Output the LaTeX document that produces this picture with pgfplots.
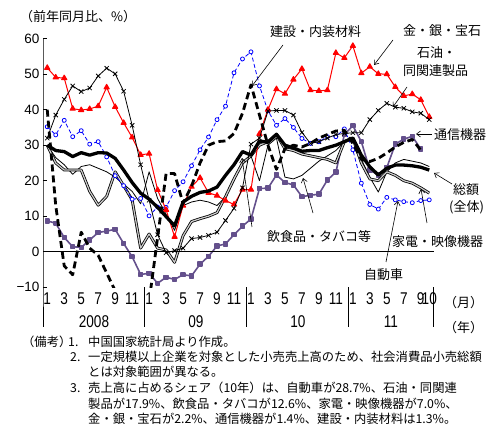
\documentclass[border=0pt]{standalone}
\usepackage{fontspec}
\setmainfont{Liberation Sans}
\newfontfamily\jp{Noto Sans CJK JP}
\newfontfamily\narrow[FakeStretch=0.8]{Liberation Sans}
\usepackage{pgfplots}
\pgfplotsset{compat=1.18}
\usepackage{pgfplotstable}
\usetikzlibrary{arrows.meta}
\definecolor{purp}{RGB}{100,80,140}
\definecolor{dgray}{RGB}{205,205,205}

\pgfplotstableread{
m tot gold oil auto tel cons food appl
0 30 51.8 32 35.2 8.7 40 30 30
1 28.5 49.1 38.5 32.9 8 13 26.5 25
2 28.2 48.9 42.9 37 4 -4 24.5 23
3 26.8 40.3 46.7 32.4 1.4 -6.5 21.8 23
4 27.9 39.9 45.1 34.1 1.2 5.5 24 23
5 27.2 40.2 46.1 30.3 3.3 1 24.5 17
6 27.9 41 49.5 31 5.4 -1 23.5 13.1
7 27.8 46.3 51.7 26.7 5.8 -6 22.5 15.6
8 26.3 40.8 50.1 21.4 6.3 -11 21 22.5
9 23 36.3 45.2 18.6 2.3 -18 19 18.6
10 19.5 32.2 35.6 14.8 -1.4 -22 17 14.6
11 16.5 27.3 24.5 15 -6.4 -22 13.5 1
12 14.8 27.6 14.5 10.1 -6.1 -14 22.5 5
13 12.5 17.4 4.8 12.6 -8.9 4 15 1
14 9.9 11.8 -0.3 12.5 -7.2 22 10.5 0.5
15 7.3 4.2 0.3 17.2 -7.8 22 6 -3
16 14 13 1 19.7 -6.5 13.6 13 4.5
17 15.6 18.3 3.7 24.2 -6.8 18.5 14 8.5
18 16.7 20.8 4 28.7 -3.5 25 14.5 9.3
19 17.1 16.6 4.6 32.3 -1.3 30 14 10
20 18.2 15.8 5.5 37.2 1.6 31 13 11
21 21.5 14.4 8.8 41 2.2 31.2 15.5 15.5
22 24.5 13.3 12.2 50.4 4.8 33.3 20 20.5
23 28.2 17.5 18 54.3 7.2 39 25 25
24 27.2 17.5 30.3 56.3 9.2 47 27 27
25 31.2 33.2 32 46.7 17.8 38.5 20 30
26 30.8 40 39.6 39.7 17.9 30 30 31
27 33.1 45.8 39.8 35.6 21.6 23.2 32 33
28 30 44.5 39.8 37.5 19.5 29 21 29
29 29.2 48.5 38.5 35 18.8 30 20.5 28.5
30 28.3 51.5 33.6 31.9 15.5 29.5 21.5 27.5
31 28.5 45.5 30.5 30.5 15.9 30.5 23.5 27
32 28.5 45.3 31 31 16.2 32 25.5 26.5
33 29.3 45.5 32 32.4 20.2 33 27 26
34 30 56 33 32.4 22.4 34 28.5 25
35 31 54.6 33.3 34.6 33 34.2 31 31
36 32 58 33.5 28.7 35.5 30.5 32 32
37 27.2 50.3 33.5 19.3 31 26 26 25
38 23.9 52.1 37.2 13.3 23 25.4 21 20.5
39 21.6 50.1 39.8 12 21.6 26.3 16.8 20
40 23.5 50 41.8 15.3 23.7 27.8 22.5 22.5
41 24.4 46.4 40.7 14.6 30.3 29.5 25 21.5
42 24.4 43.9 40.4 14.1 31.7 30.8 26 20
43 24.2 44.4 39.4 13.8 32.5 31.6 25.5 19.3
44 23.8 42.8 39 14.4 28.9 28.6 25 18
45 23 38 37.2 14.6 nan nan 24 16.5
}\data

\begin{document}
\begin{tikzpicture}[x=1pt,y=1pt]
\useasboundingbox (0,0) rectangle (496,-433);
\begin{axis}[at={(43pt,-287.2pt)}, anchor=south west,
  width=390.5pt, height=248.5pt, scale only axis,
  xmin=-0.5, xmax=45.5, ymin=-10, ymax=60,
  clip mode=individual,
  axis line style={draw=none},
  ytick={-10,0,10,20,30,40,50,60},
  yticklabels={−10,0,10,20,30,40,50,60},
  ytick pos=left, tick align=inside,
  major tick length=4pt,
  ytick style={black, line width=0.6pt},
  yticklabel style={font=\fontsize{13.5}{14}\selectfont},
  xtick={0,2,4,6,8,10,12,14,16,18,20,22,24,26,28,30,32,34,36,38,40,42,44,45},
  xticklabels={1,3,5,7,9,11,1,3,5,7,9,11,1,3,5,7,9,11,1,3,5,7,9,10},
  xtick style={draw=none},
  xticklabel style={font=\narrow\fontsize{17}{17}\selectfont, anchor=north, yshift=-2pt},
  every axis plot/.append style={line join=round},
]
\addplot[purp, line width=1.6pt, mark=square*, mark size=1.9pt] table[x=m,y=tel]{\data};
\addplot[black, line width=0.8pt] table[x=m,y=food]{\data};
\addplot[black, line width=2.8pt] table[x=m,y=appl]{\data};
\addplot[dgray, line width=1.2pt] table[x=m,y=appl]{\data};
\addplot[blue, line width=0.8pt, dash pattern=on 4pt off 2.5pt, mark=*, mark size=2pt, mark options={solid, fill=white, draw=blue}] table[x=m,y=auto]{\data};
\addplot[red, line width=1pt, mark=triangle*, mark size=3pt] table[x=m,y=gold]{\data};
\addplot[black, line width=0.8pt, mark=x, mark size=3pt, mark options={line width=0.8pt}] table[x=m,y=oil]{\data};
\addplot[black, line width=2.8pt, dash pattern=on 7pt off 4pt] table[x=m,y=cons]{\data};
\addplot[black, line width=3.3pt] table[x=m,y=tot]{\data};
\draw[line width=0.8pt] (axis cs:-0.5,60) -- (axis cs:-0.5,-10) -- ++(0pt,-40pt);
\draw[line width=0.8pt] (axis cs:-0.5,0) -- (axis cs:45.5,0);
\draw[line width=0.8pt] (axis cs:11.5,-10) -- ++(0pt,-40pt);
\draw[line width=0.8pt] (axis cs:23.5,-10) -- ++(0pt,-40pt);
\draw[line width=0.8pt] (axis cs:35.5,-10) -- ++(0pt,-40pt);
\draw[line width=0.8pt] (axis cs:45.5,-10) -- ++(0pt,-40pt);
\end{axis}

% year labels
\begin{scope}[every node/.style={font=\narrow\fontsize{17}{17}\selectfont, inner sep=0}]
\node at (94,-322) {2008};
\node at (196,-322) {09};
\node at (298,-322) {10};
\node at (391,-322) {11};
\end{scope}

\begin{scope}[every node/.style={font=\jp\fontsize{13}{13}\selectfont, inner sep=0, anchor=west}]
\node at (20,-17) {（前年同月比、\%）};
\node at (270,-32) {建設・内装材料};
\node at (403,-31) {金・銀・宝石};
\node at (417,-53) {石油・};
\node at (403,-71) {同関連製品};
\node at (434,-135) {通信機器};
\node at (453,-190) {総額};
\node at (449,-207) {(全体)};
\node at (267,-237) {飲食品・タバコ等};
\node at (392,-242) {家電・映像機器};
\node at (364,-275) {自動車};
\node at (444,-303) {（月）};
\node at (444,-328) {（年）};
\end{scope}

\begin{scope}[line width=0.6pt, -{Straight Barb[length=4pt,width=6pt]}]
\draw (283,-45) -- (252,-86);
\draw (393,-40) -- (374,-65);
\draw (407,-87) -- (393,-107);
\draw (432,-134) -- (416,-134);
\draw (452,-184) -- (434,-173);
\draw (313,-213) -- (303,-178);
\draw (252,-227) -- (242,-158);
\draw (427,-223) -- (421,-189);
\draw (386,-262) -- (398,-201);
\end{scope}

\begin{scope}[every node/.style={font=\jp\fontsize{12.3}{12.3}\selectfont, inner sep=0, anchor=west}]
\node at (22,-342) {（備考）};
\node at (68,-342) {1.};
\node at (88,-342) {中国国家統計局より作成。};
\node at (70,-357) {2.};
\node at (88,-357) {一定規模以上企業を対象とした小売売上高のため、社会消費品小売総額};
\node at (88,-372) {とは対象範囲が異なる。};
\node at (70,-388) {3.};
\node at (88,-388) {売上高に占めるシェア（10年）は、自動車が28.7\%、石油・同関連};
\node at (88,-404) {製品が17.9\%、飲食品・タバコが12.6\%、家電・映像機器が7.0\%、};
\node at (88,-419) {金・銀・宝石が2.2\%、通信機器が1.4\%、建設・内装材料は1.3\%。};
\end{scope}
\end{tikzpicture}
\end{document}
